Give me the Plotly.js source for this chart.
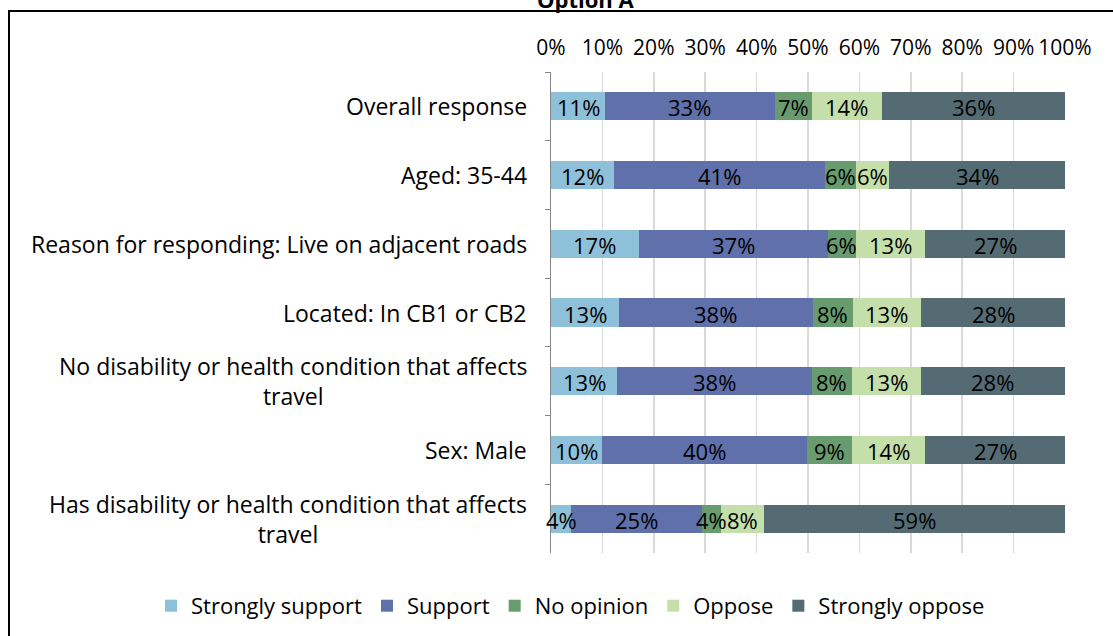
<!DOCTYPE html>
<html>
<head>
<meta charset="utf-8">
<script src="https://cdn.plot.ly/plotly-3.0.1.min.js"></script>
<style>
  html, body { margin: 0; padding: 0; background: #fff; overflow: hidden; }
  #wrap { position: relative; width: 1113px; height: 636px; }
  #chart { width: 1113px; height: 636px; }
  #frame { position: absolute; left: 8px; top: 10px; width: 1200px; height: 700px;
           border-top: 2px solid #000; border-left: 2px solid #000; pointer-events: none; }
</style>
</head>
<body>
<div id="wrap">
  <div id="chart"></div>
  <div id="frame"></div>
</div>
<script>
// Categories (top to bottom)
const categories = [
  "Overall response",
  "Aged: 35-44",
  "Reason for responding: Live on adjacent roads",
  "Located: In CB1 or CB2",
  "No disability or health condition that affects<br>travel",
  "Sex: Male",
  "Has disability or health condition that affects<br>travel"
];

const seriesNames = ["Strongly support", "Support", "No opinion", "Oppose", "Strongly oppose"];

// Percent values per series (one per category)
const stronglySupport = [10.55, 12.2, 17.1, 13.3, 12.9, 9.9, 3.9];
const support         = [32.95, 41.2, 36.7, 37.6, 37.8, 39.9, 25.4];
const noOpinion       = [7.2,   6.0,  5.6,  7.8,  7.8,  8.7,  3.8];
const oppose          = [13.7,  6.4,  13.4, 13.3, 13.4, 14.3, 8.3];
const stronglyOppose  = [35.6,  34.2, 27.2, 28.0, 28.1, 27.2, 58.6];

const xTickVals = [0, 10, 20, 30, 40, 50, 60, 70, 80, 90, 100];

const chartTitle = "Option A";

const seriesValues = [stronglySupport, support, noOpinion, oppose, stronglyOppose];
const colors = ["#8EC1D9", "#5F70AA", "#689C6F", "#C4DFA9", "#546B74"];

const FONT = "'Open Sans', 'Liberation Sans', sans-serif";

const barTraces = seriesNames.map((name, i) => ({
  type: "bar",
  orientation: "h",
  name: name,
  y: categories,
  x: seriesValues[i],
  marker: { color: colors[i], line: { width: 0 } },
  hoverinfo: "name+x"
}));

// Category labels (centred multi-line text, right-aligned to the axis)
const annotations = categories.map(c => ({
  xref: "paper", yref: "y",
  x: 0, y: c,
  xanchor: "right", yanchor: "middle",
  xshift: -22,
  align: "center",
  showarrow: false,
  text: c,
  font: { family: FONT, size: 23, color: "#000" }
}));

// Data labels drawn above all bars, centred in each segment (derived from the data)
seriesNames.forEach((name, i) => {
  categories.forEach((c, k) => {
    let start = 0;
    for (let j = 0; j < i; j++) start += seriesValues[j][k];
    annotations.push({
      xref: "x", yref: "y",
      x: start + seriesValues[i][k] / 2, y: c,
      xanchor: "center", yanchor: "middle",
      yshift: -1,
      showarrow: false,
      text: Math.round(seriesValues[i][k]) + "%",
      font: { family: FONT, size: 22, color: "#000" }
    });
  });
});

annotations.push({
  xref: "paper", yref: "paper",
  x: (585 - 551) / 514, y: 1,
  xanchor: "center", yanchor: "middle",
  yshift: 73,
  showarrow: false,
  text: "<b>" + chartTitle + "</b>",
  font: { family: FONT, size: 22, color: "#000" }
});

const layout = {
  width: 1113,
  height: 636,
  margin: { l: 551, r: 48, t: 72, b: 83, autoexpand: false },
  paper_bgcolor: "#fff",
  plot_bgcolor: "#fff",
  barmode: "stack",
  bargap: 0.59,
  xaxis: {
    side: "top",
    range: [0, 100],
    tickvals: xTickVals,
    ticktext: xTickVals.map(v => v + "%"),
    showgrid: true,
    gridcolor: "#D9D9D9",
    gridwidth: 1.5,
    zeroline: false,
    showline: false,
    ticks: "",
    ticklabelstandoff: 12,
    tickfont: { family: FONT, size: 21, color: "#000" },
    fixedrange: true
  },
  yaxis: {
    type: "category",
    autorange: "reversed",
    showticklabels: false,
    showgrid: false,
    zeroline: false,
    showline: true,
    linecolor: "#868686",
    linewidth: 1,
    ticks: "outside",
    tickson: "boundaries",
    ticklen: 5,
    tickcolor: "#868686",
    fixedrange: true
  },
  legend: {
    orientation: "h",
    traceorder: "normal",
    x: (151 - 551) / 514, xanchor: "left",
    y: -0.11, yanchor: "middle",
    font: { family: FONT, size: 22, color: "#000" },
    itemwidth: 30
  },
  annotations: annotations,
  showlegend: true
};

Plotly.newPlot("chart", barTraces, layout, { displayModeBar: false, staticPlot: true });
</script>
</body>
</html>
